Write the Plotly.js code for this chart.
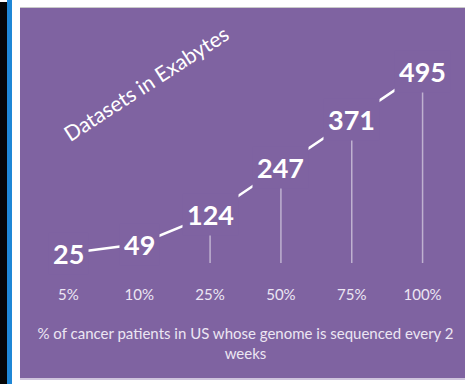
<!DOCTYPE html>
<html><head><meta charset="utf-8">
<script src="https://cdn.plot.ly/plotly-3.0.1.min.js"></script>
<style>
html,body{margin:0;padding:0;background:#ffffff;width:465px;height:384px;overflow:hidden;}
#blk{position:absolute;left:0;top:2px;width:7px;height:382px;background:#050505;}
#blu{position:absolute;left:7px;top:0;width:5px;height:384px;background:#1f87d6;}
#topl{position:absolute;left:20px;top:7px;width:445px;height:1px;background:#c9c9c9;}
#pur{position:absolute;left:20px;top:8px;width:445px;height:370px;background:#7f63a1;}
#bot{position:absolute;left:20px;top:378px;width:445px;height:2px;background:#cfc4dd;}
#chart{position:absolute;left:0;top:0;width:465px;height:384px;}
</style></head>
<body>
<div id="blk"></div><div id="blu"></div><div id="topl"></div><div id="pur"></div><div id="bot"></div>
<div id="chart"></div>
<script>
var categories = ["5%", "10%", "25%", "50%", "75%", "100%"];
var values = [25, 49, 124, 247, 371, 495];
var chartTitle = "Datasets in Exabytes";
var xTitle = "% of cancer patients in US whose genome is sequenced every 2<br>weeks";

var PURPLE = "#7f63a1";
var FONT = "Lato, 'Open Sans', sans-serif";

var trace = {
  type: "scatter",
  mode: "lines",
  x: categories,
  y: values,
  line: {color: "#ffffff", width: 2.5},
  error_y: {
    type: "data",
    symmetric: false,
    array: values.map(function(){return 0;}),
    arrayminus: values,
    width: 0,
    thickness: 1.5,
    color: "rgba(255,255,255,0.5)"
  },
  hoverinfo: "none"
};

var annotations = categories.map(function(c, i){
  return {
    x: c, y: values[i], xref: "x", yref: "y",
    text: String(values[i]),
    showarrow: false,
    font: {family: FONT, size: 27, color: "#ffffff", weight: "bold"},
    bgcolor: PURPLE,
    borderpad: 4,
    xanchor: "center", yanchor: "middle"
  };
});
annotations.push({
  xref: "paper", yref: "paper",
  x: (145 - 33) / (458 - 33),
  y: (263 - 83) / (263 - 40),
  text: chartTitle,
  textangle: -33,
  showarrow: false,
  font: {family: FONT, size: 21, color: "#ffffff"},
  xanchor: "center", yanchor: "middle"
});

var layout = {
  width: 465, height: 384,
  margin: {l: 33, r: 7, t: 40, b: 121},
  paper_bgcolor: "rgba(0,0,0,0)",
  plot_bgcolor: "rgba(0,0,0,0)",
  showlegend: false,
  xaxis: {
    type: "category",
    range: [-0.5, 5.5],
    showgrid: false, zeroline: false, showline: false,
    ticks: "outside", ticklen: 18, tickcolor: "rgba(0,0,0,0)",
    tickfont: {family: FONT, size: 15, color: "#ece6f3"},
    title: {text: xTitle, font: {family: FONT, size: 15, color: "#ece6f3"}, standoff: 26},
    fixedrange: true
  },
  yaxis: {
    range: [0, 576],
    visible: false,
    fixedrange: true
  },
  annotations: annotations
};

Plotly.newPlot("chart", [trace], layout, {staticPlot: true, displayModeBar: false});
</script>
</body></html>
